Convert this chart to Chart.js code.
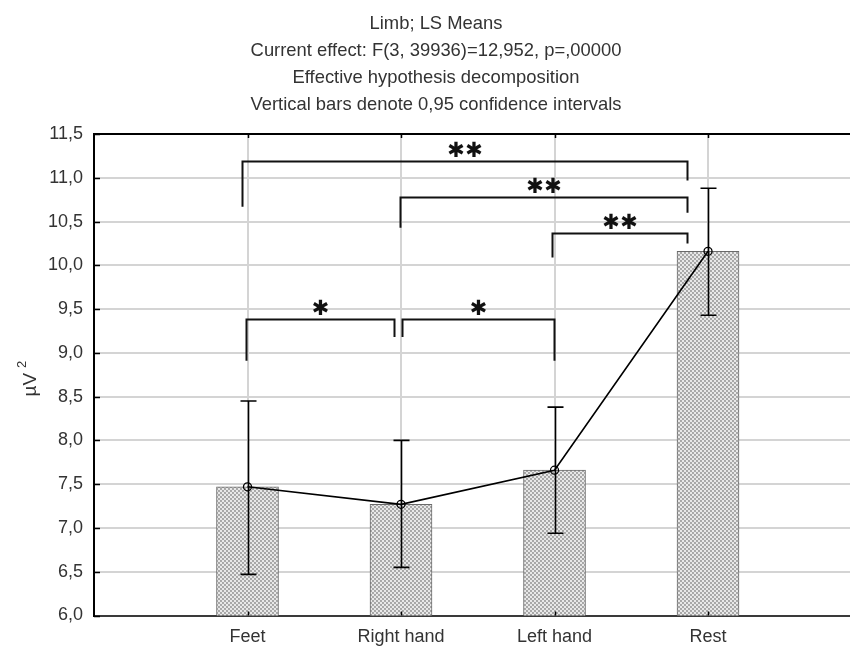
<!DOCTYPE html>
<html>
<head>
<meta charset="utf-8">
<script src="https://cdn.jsdelivr.net/npm/chart.js@4.4.1/dist/chart.umd.min.js"></script>
<style>
  html, body { margin: 0; padding: 0; background: #ffffff; }
  #wrap { width: 850px; height: 646px; }
</style>
</head>
<body>
<div id="wrap"><canvas id="chart" width="850" height="646"></canvas></div>
<script>
// LS means per limb condition with 0.95 confidence limits
const categories = ['Feet', 'Right hand', 'Left hand', 'Rest'];
const categoryPositions = [1, 2, 3, 4];
const means   = [7.47, 7.27, 7.66, 10.16];
const ciLower = [6.47, 6.55, 6.94, 9.43];
const ciUpper = [8.45, 8.00, 8.38, 10.88];
const yTicks = [6.0, 6.5, 7.0, 7.5, 8.0, 8.5, 9.0, 9.5, 10.0, 10.5, 11.0, 11.5];
const titleLines = [
  'Limb; LS Means',
  'Current effect: F(3, 39936)=12,952, p=,00000',
  'Effective hypothesis decomposition',
  'Vertical bars denote 0,95 confidence intervals'
];
const yAxisUnit = 'µV';
const yAxisPower = '2';

// Pairwise comparisons: from x, to x, bracket level, left leg end, right leg end, stars
const bracketFrom  = [0.964, 1.994, 2.985, 0.988, 2.007];
const bracketTo    = [3.86,  3.86,  3.86,  1.954, 2.997];
const bracketLevel = [11.19, 10.78, 10.37, 9.39,  9.39];
const bracketLeftEnd  = [10.67, 10.43, 10.09, 8.91, 9.18];
const bracketRightEnd = [10.97, 10.60, 10.25, 9.18, 8.91];
const bracketStars = [2, 2, 2, 1, 1];

const FONT = '"Liberation Sans", Arial, sans-serif';
const TEXT = '#333333';

const canvas = document.getElementById('chart');
const ctx = canvas.getContext('2d');

// stippled grey fill for the bars
function stipple() {
  const t = document.createElement('canvas');
  t.width = 4; t.height = 4;
  const g = t.getContext('2d');
  g.fillStyle = '#e8e8e8';
  g.fillRect(0, 0, 4, 4);
  g.fillStyle = '#8a8a8a';
  g.beginPath(); g.arc(1, 1, 0.9, 0, Math.PI * 2); g.fill();
  g.beginPath(); g.arc(3, 3, 0.9, 0, Math.PI * 2); g.fill();
  return ctx.createPattern(t, 'repeat');
}

const points = categoryPositions.map((x, i) => ({ x: x, y: means[i] }));

// four-line heading above the plot
const heading = {
  id: 'heading',
  afterDraw(chart) {
    const c = chart.ctx;
    c.save();
    c.fillStyle = TEXT;
    c.font = '18.4px ' + FONT;
    c.textAlign = 'center';
    c.textBaseline = 'alphabetic';
    titleLines.forEach((line, i) => c.fillText(line, 436, 29 + i * 27));
    c.restore();
  }
};

// confidence-interval whiskers
const errorBars = {
  id: 'errorBars',
  afterDatasetDraw(chart, args) {
    if (args.index !== 0) return;
    const { ctx, scales: { x, y } } = chart;
    ctx.save();
    ctx.strokeStyle = '#000';
    ctx.lineWidth = 1.6;
    categoryPositions.forEach((pos, i) => {
      const px = Math.round(x.getPixelForValue(pos)) + 0.5;
      const lo = y.getPixelForValue(ciLower[i]);
      const hi = y.getPixelForValue(ciUpper[i]);
      ctx.beginPath();
      ctx.moveTo(px, lo); ctx.lineTo(px, hi);
      ctx.moveTo(px - 8, lo); ctx.lineTo(px + 8, lo);
      ctx.moveTo(px - 8, hi); ctx.lineTo(px + 8, hi);
      ctx.stroke();
    });
    ctx.restore();
  }
};

// frame, inward tick marks, unit label and significance brackets
const frameAndBrackets = {
  id: 'frameAndBrackets',
  afterDraw(chart) {
    const { ctx, chartArea: a, scales: { x, y } } = chart;
    ctx.save();
    // top frame line
    ctx.strokeStyle = '#000';
    ctx.lineWidth = 2;
    ctx.beginPath();
    ctx.moveTo(a.left, a.top); ctx.lineTo(a.right, a.top);
    ctx.stroke();
    // inward ticks
    ctx.lineWidth = 1.5;
    ctx.beginPath();
    y.ticks.forEach(t => {
      const py = Math.round(y.getPixelForValue(t.value)) + 0.5;
      ctx.moveTo(a.left, py); ctx.lineTo(a.left + 6, py);
    });
    x.ticks.forEach(t => {
      const px = Math.round(x.getPixelForValue(t.value)) + 0.5;
      ctx.moveTo(px, a.bottom); ctx.lineTo(px, a.bottom - 4);
      ctx.moveTo(px, a.top); ctx.lineTo(px, a.top + 4);
    });
    ctx.stroke();

    // y unit label, rotated, with raised exponent
    ctx.save();
    ctx.translate(29, (a.top + a.bottom) / 2 + 4);
    ctx.rotate(-Math.PI / 2);
    ctx.fillStyle = TEXT;
    ctx.textBaseline = 'alphabetic';
    ctx.textAlign = 'left';
    ctx.font = '19px ' + FONT;
    const w = ctx.measureText(yAxisUnit).width;
    const total = w + 4 + 8;
    ctx.fillText(yAxisUnit, -total / 2, 7);
    ctx.font = '13px ' + FONT;
    ctx.fillText(yAxisPower, -total / 2 + w + 5, -3);
    ctx.restore();

    // brackets
    ctx.lineWidth = 2;
    ctx.strokeStyle = '#111';
    ctx.fillStyle = '#111';
    ctx.font = 'bold 21px "DejaVu Sans", sans-serif';
    ctx.textAlign = 'center';
    ctx.textBaseline = 'middle';
    bracketFrom.forEach((from, i) => {
      const x1 = Math.round(x.getPixelForValue(from)) + 0.5;
      const x2 = Math.round(x.getPixelForValue(bracketTo[i])) + 0.5;
      const yl = Math.round(y.getPixelForValue(bracketLevel[i])) + 0.5;
      const y1 = y.getPixelForValue(bracketLeftEnd[i]);
      const y2 = y.getPixelForValue(bracketRightEnd[i]);
      ctx.beginPath();
      ctx.moveTo(x1, y1); ctx.lineTo(x1, yl); ctx.lineTo(x2, yl); ctx.lineTo(x2, y2);
      ctx.stroke();
      const cx = (x1 + x2) / 2;
      const n = bracketStars[i];
      for (let k = 0; k < n; k++) {
        ctx.fillText('✱', cx + (k - (n - 1) / 2) * 18, yl - 10);
      }
    });
    ctx.restore();
  }
};

new Chart(ctx, {
  type: 'bar',
  data: {
    datasets: [
      {
        type: 'bar',
        data: points,
        backgroundColor: stipple(),
        borderColor: '#6a6a6a',
        borderWidth: 1,
        barThickness: 62,
        order: 2
      },
      {
        type: 'line',
        data: points,
        borderColor: '#000',
        borderWidth: 1.6,
        tension: 0,
        pointRadius: 4,
        pointBorderWidth: 1.3,
        pointBorderColor: '#000',
        pointBackgroundColor: 'rgba(0,0,0,0)',
        order: 1
      }
    ]
  },
  options: {
    responsive: false,
    animation: false,
    devicePixelRatio: 1,
    layout: { autoPadding: false, padding: { top: 134, left: 0, right: 0, bottom: 0 } },
    plugins: {
      legend: { display: false },
      tooltip: { enabled: false },
      title: { display: false }
    },
    scales: {
      x: {
        type: 'linear',
        offset: false,
        min: 0,
        max: 4.925,
        afterBuildTicks: s => { s.ticks = categoryPositions.map(v => ({ value: v })); },
        afterFit: s => { s.height = 30.5; s.paddingLeft = 0; s.paddingRight = 0; },
        ticks: {
          callback: (v, i) => categories[i],
          color: TEXT,
          font: { family: FONT, size: 18 },
          padding: 11,
          autoSkip: false,
          maxRotation: 0
        },
        grid: { color: '#d4d4d4', lineWidth: 2, drawTicks: false, offset: false },
        border: { color: '#3a3a3a', width: 2 }
      },
      y: {
        min: 6,
        max: 11.5,
        afterBuildTicks: s => { s.ticks = yTicks.map(v => ({ value: v })); },
        afterFit: s => { s.width = 94; },
        ticks: {
          callback: v => Number(v).toFixed(1).replace('.', ','),
          color: TEXT,
          font: { family: FONT, size: 18 },
          padding: 11
        },
        grid: { color: '#d4d4d4', lineWidth: 2, drawTicks: false },
        border: { color: '#000', width: 2 }
      }
    }
  },
  plugins: [heading, errorBars, frameAndBrackets]
});
</script>
</body>
</html>
